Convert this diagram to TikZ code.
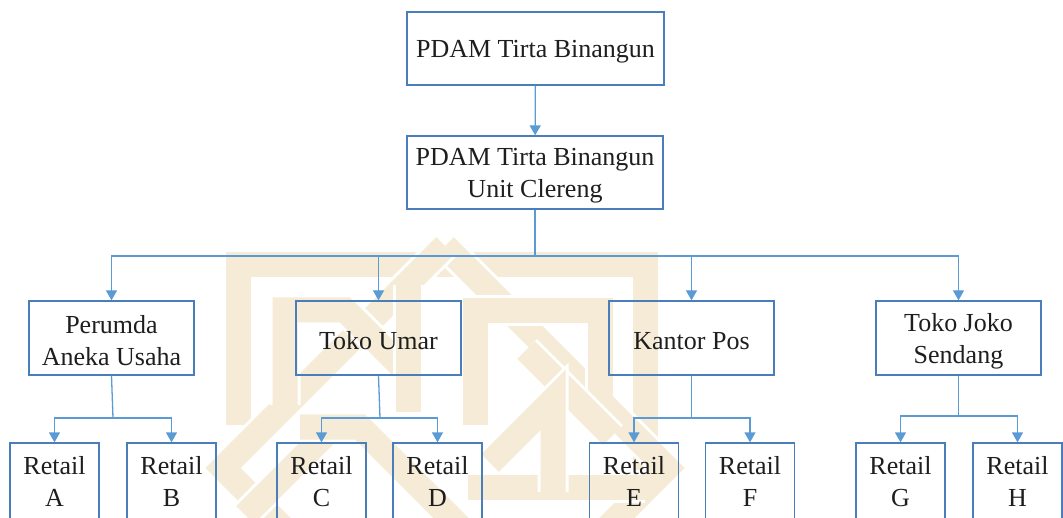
\documentclass[tikz,border=0pt]{standalone}
\usepackage{fontspec}
\setmainfont{Liberation Serif}
\usetikzlibrary{arrows.meta}
\definecolor{boxblue}{RGB}{74,126,187}
\definecolor{connblue}{RGB}{91,155,213}
\definecolor{txt}{RGB}{30,30,30}
\definecolor{wm}{RGB}{245,235,214}
\newcommand{\upstrut}{\rule{0pt}{24pt}}
\tikzset{
  box/.style={draw=boxblue, line width=1.3pt, inner sep=0pt, align=center,
    text=txt, font=\fontsize{26}{32}\selectfont},
  midbox/.style={box, minimum width=165pt, minimum height=74pt},
  retail/.style={box, minimum width=89pt, minimum height=77pt},
  conn/.style={draw=connblue, line width=1.3pt},
  arr/.style={conn, -{Triangle[width=11pt,length=10pt]}},
  wmark/.style={draw=white, double=wm, line width=3pt, double distance=25pt,
    line cap=butt, line join=miter}
}
\begin{document}
\begin{tikzpicture}[x=1pt,y=-1pt]
\useasboundingbox (0,0) rectangle (1063,518);
\clip (0,0) rectangle (1063,518);
% watermark (approximate logo)
\draw[wmark] (238,425) -- (238,265) -- (645,265) -- (645,470);
\draw[wmark] (445,246) -- (667,468) -- (600,535);
\draw[wmark] (445,246) -- (223,468) -- (290,535);
\draw[wmark] (468,487) -- (645,487);
\draw[wmark] (475,425) -- (475,311) -- (600,311) -- (600,395);
\draw[wmark] (526,350) -- (612,436);
\draw[wmark] (553,492) -- (553,400) -- (490,463);
\draw[wmark] (285,405) -- (285,310) -- (345,310) -- (405,370);
\draw[wmark] (408,285) -- (408,412);
\draw[wmark] (335,425) -- (245,515);
\draw[wmark] (300,427) -- (360,427) -- (470,537);
% nodes
\node[box, minimum width=257pt, minimum height=73pt] (top) at (535.5,48.5) {\upstrut PDAM Tirta Binangun};
\node[box, minimum width=256pt, minimum height=73pt] (unit) at (535,172.5) {\upstrut PDAM Tirta Binangun\\Unit Clereng};
\node[midbox] (p1) at (111.5,338) {\upstrut Perumda\\Aneka Usaha};
\node[midbox] (p2) at (378.5,338) {\upstrut Toko Umar};
\node[midbox] (p3) at (691.5,338) {\upstrut Kantor Pos};
\node[midbox] (p4) at (958.5,338) {\upstrut Toko Joko\\Sendang};
\node[retail] (ra) at (54.5,481.5) {Retail\\A};
\node[retail] (rb) at (171.5,481.5) {Retail\\B};
\node[retail] (rc) at (321.5,481.5) {Retail\\C};
\node[retail] (rd) at (437.5,481.5) {Retail\\D};
\node[retail] (re) at (634,481.5) {Retail\\E};
\node[retail] (rf) at (750,481.5) {Retail\\F};
\node[retail] (rg) at (900.5,481.5) {Retail\\G};
\node[retail] (rh) at (1017.5,481.5) {Retail\\H};
% connectors
\coordinate (bus) at (535,256);
\coordinate (j1) at (113,418);
\coordinate (j2) at (380,418);
\coordinate (j3) at (691.5,418);
\coordinate (j4) at (958.5,416);
\draw[arr] (top) -- (unit);
\draw[conn] (unit.south) -- (bus);
\draw[arr] (bus) -| (p1.north);
\draw[arr] (bus) -| (p2.north);
\draw[arr] (bus) -| (p3.north);
\draw[arr] (bus) -| (p4.north);
\draw[conn] (p1.south) -- (j1);
\draw[conn] (p2.south) -- (j2);
\draw[conn] (p3.south) -- (j3);
\draw[conn] (p4.south) -- (j4);
\draw[arr] (j1) -| (ra.north);
\draw[arr] (j1) -| (rb.north);
\draw[arr] (j2) -| (rc.north);
\draw[arr] (j2) -| (rd.north);
\draw[arr] (j3) -| (re.north);
\draw[arr] (j3) -| (rf.north);
\draw[arr] (j4) -| (rg.north);
\draw[arr] (j4) -| (rh.north);
\end{tikzpicture}
\end{document}
